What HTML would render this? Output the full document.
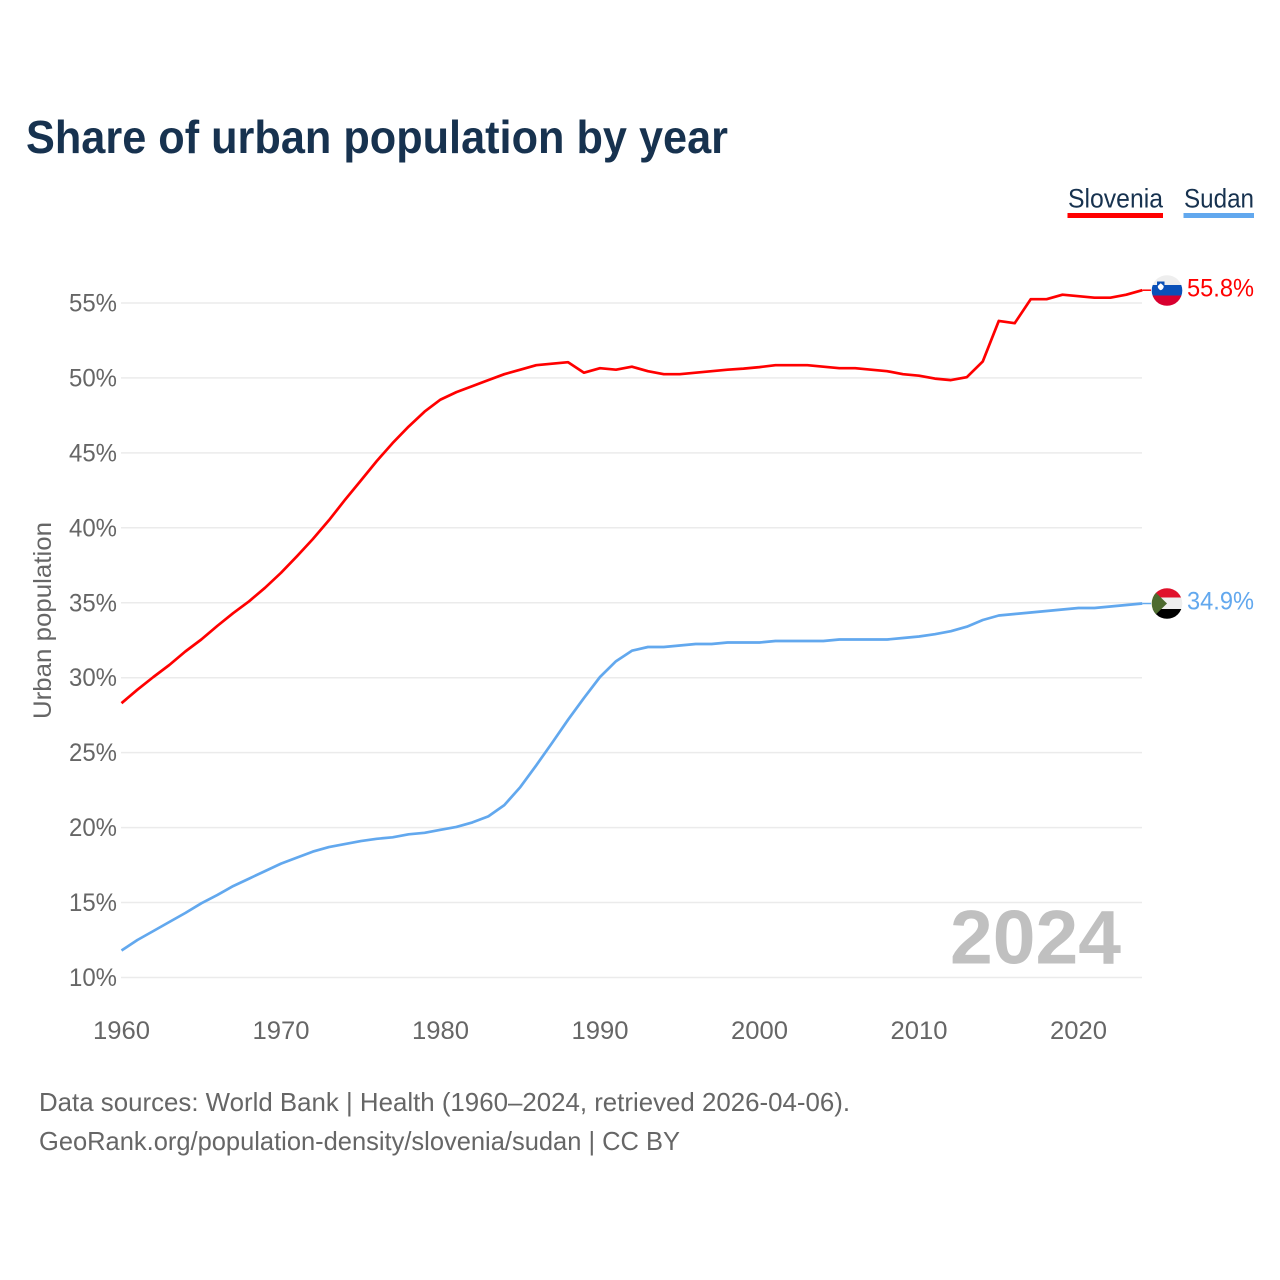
<!DOCTYPE html>
<html lang="en">
<head>
<meta charset="utf-8">
<title>Share of urban population by year</title>
<style>
html,body{margin:0;padding:0;background:#fff;width:1280px;height:1280px;overflow:hidden}
svg{display:block}
text{font-family:"Liberation Sans",sans-serif}
</style>
</head>
<body>
<svg id="chart" xmlns="http://www.w3.org/2000/svg" width="1280" height="1280" viewBox="0 0 1280 1280">
  <rect width="1280" height="1280" fill="#fff"/>
  <text x="26" y="153" font-size="46" font-weight="700" fill="#17324f" textLength="702" lengthAdjust="spacingAndGlyphs">Share of urban population by year</text>

  <g>
    <g>
      <text x="1068" y="207.500" font-size="27" fill="#17324f" textLength="95" lengthAdjust="spacingAndGlyphs">Slovenia</text>
      <rect x="1067.500" y="213" width="95.500" height="5" fill="#ff0000"/>
    </g>
    <g>
      <text x="1184" y="207.500" font-size="27" fill="#17324f" textLength="70" lengthAdjust="spacingAndGlyphs">Sudan</text>
      <rect x="1183.500" y="213" width="70.500" height="5" fill="#62a8ee"/>
    </g>
  </g>

  <g id="grid"></g>
  <g id="yticks"></g>
  <g id="xticks"></g>
  <text transform="translate(51,719) rotate(-90)" font-size="25" fill="#666" textLength="197" lengthAdjust="spacingAndGlyphs">Urban population</text>

  <text x="950" y="963.500" font-size="76" font-weight="700" fill="#c0c0c0" textLength="171" lengthAdjust="spacingAndGlyphs">2024</text>

  <g id="series"></g>

  <g>
    <clipPath id="clipSi"><circle cx="1167" cy="290.500" r="15.300"/></clipPath>
    <g clip-path="url(#clipSi)">
      <rect x="1150" y="274" width="34" height="11" fill="#eeeeee"/>
      <rect x="1150" y="285" width="34" height="10.500" fill="#0a50b8"/>
      <rect x="1150" y="295.500" width="34" height="12" fill="#d8002f"/>
      <path d="M1157 281.500 h7.500 v5 q0 3 -3.750 4.500 q-3.750 -1.500 -3.750 -4.500z" fill="#0a50b8"/>
      <path d="M1157.800 286 l1.500 -1.500 l1.450 -1.200 l1.450 1.200 l1.500 1.500 v0.500 q0 2.500 -2.950 3.800 q-2.950 -1.300 -2.950 -3.800z" fill="#fff"/>
    </g>
  </g>
  <g>
    <clipPath id="clipSd"><circle cx="1167" cy="603.500" r="15.300"/></clipPath>
    <g clip-path="url(#clipSd)">
      <rect x="1150" y="587" width="34" height="10.500" fill="#e0112b"/>
      <rect x="1150" y="597.500" width="34" height="11.500" fill="#eeeeee"/>
      <rect x="1150" y="609" width="34" height="11" fill="#000"/>
      <path d="M1149 586 L1167 603.500 L1149 621z" fill="#4d6b2f"/>
    </g>
  </g>

  <text x="1187" y="296.500" font-size="25" fill="#ff0000" textLength="67" lengthAdjust="spacingAndGlyphs">55.8%</text>
  <text x="1187" y="609.500" font-size="25" fill="#62a8ee" textLength="67" lengthAdjust="spacingAndGlyphs">34.9%</text>

  <g>
    <text x="39" y="1111" font-size="26" fill="#666" textLength="811" lengthAdjust="spacingAndGlyphs">Data sources: World Bank | Health (1960–2024, retrieved 2026-04-06).</text>
    <text x="39" y="1150" font-size="26" fill="#666" textLength="641" lengthAdjust="spacingAndGlyphs">GeoRank.org/population-density/slovenia/sudan | CC BY</text>
  </g>
</svg>
<script>
var startYear = 1960;
var sloveniaValues = [28.3,29.2,30.05,30.85,31.75,32.55,33.45,34.3,35.1,36.0,37.0,38.1,39.25,40.5,41.85,43.15,44.45,45.65,46.75,47.75,48.55,49.05,49.45,49.85,50.25,50.55,50.85,50.95,51.05,50.35,50.65,50.55,50.75,50.45,50.25,50.25,50.35,50.45,50.55,50.62,50.72,50.85,50.85,50.85,50.75,50.65,50.65,50.55,50.45,50.25,50.15,49.95,49.85,50.05,51.1,53.8,53.65,55.25,55.25,55.55,55.45,55.35,55.35,55.55,55.85];
var sudanValues = [11.8,12.5,13.1,13.7,14.3,14.95,15.5,16.1,16.6,17.1,17.6,18.0,18.4,18.7,18.9,19.1,19.25,19.35,19.55,19.65,19.85,20.05,20.35,20.75,21.5,22.7,24.15,25.65,27.2,28.65,30.05,31.1,31.8,32.05,32.05,32.15,32.25,32.25,32.35,32.35,32.35,32.45,32.45,32.45,32.45,32.55,32.55,32.55,32.55,32.65,32.75,32.9,33.1,33.4,33.85,34.15,34.25,34.35,34.45,34.55,34.65,34.65,34.75,34.85,34.95];
var yTickValues = [10,15,20,25,30,35,40,45,50,55];
var xTickYears = [1960,1970,1980,1990,2000,2010,2020];

var NS = 'http://www.w3.org/2000/svg';
function xScale(year){ return 121.5 + (year - 1960) * 15.95; }
function yScale(v){ return 977.5 - (v - 10) * 14.99; }

var gridGroup = document.getElementById('grid');
var yGroup = document.getElementById('yticks');
var xGroup = document.getElementById('xticks');
var seriesGroup = document.getElementById('series');

yTickValues.forEach(function(v){
  var line = document.createElementNS(NS, 'line');
  
  
  line.setAttribute('x1', 121);
  line.setAttribute('x2', 1142);
  line.setAttribute('y1', yScale(v));
  line.setAttribute('y2', yScale(v));
  line.setAttribute('stroke', '#ebebeb');
  line.setAttribute('stroke-width', '1.5');
  gridGroup.appendChild(line);

  var t = document.createElementNS(NS, 'text');
  
  
  t.setAttribute('x', 69);
  t.setAttribute('y', yScale(v) + 8.5);
  t.setAttribute('font-size', '25');
  t.setAttribute('fill', '#666');
  t.setAttribute('textLength', '48');
  t.setAttribute('lengthAdjust', 'spacingAndGlyphs');
  t.textContent = v + '%';
  yGroup.appendChild(t);
});

xTickYears.forEach(function(y){
  var t = document.createElementNS(NS, 'text');
  
  
  t.setAttribute('x', xScale(y) - 28.5);
  t.setAttribute('y', 1039);
  t.setAttribute('font-size', '25');
  t.setAttribute('fill', '#666');
  t.setAttribute('textLength', '57');
  t.setAttribute('lengthAdjust', 'spacingAndGlyphs');
  t.textContent = y;
  xGroup.appendChild(t);
});

function linePoints(values){
  return values.map(function(v, i){
    return xScale(startYear + i).toFixed(1) + ',' + yScale(v).toFixed(1);
  }).join(' ');
}
function connectorEndY(values){
  return yScale(values[values.length - 1]).toFixed(1);
}
function connectorStartX(values){
  return xScale(startYear + values.length - 1).toFixed(1);
}

var sudanLine = document.createElementNS(NS, 'polyline');


sudanLine.setAttribute('points', linePoints(sudanValues));
sudanLine.setAttribute('fill', 'none');
sudanLine.setAttribute('stroke', '#62a8ee');
sudanLine.setAttribute('stroke-width', '2.7');
sudanLine.setAttribute('stroke-linejoin', 'round');
seriesGroup.appendChild(sudanLine);

var sudanConnector = document.createElementNS(NS, 'line');


sudanConnector.setAttribute('x1', connectorStartX(sudanValues));
sudanConnector.setAttribute('x2', 1151);
sudanConnector.setAttribute('y1', connectorEndY(sudanValues));
sudanConnector.setAttribute('y2', connectorEndY(sudanValues));
sudanConnector.setAttribute('stroke', '#62a8ee');
sudanConnector.setAttribute('stroke-width', '1.5');
seriesGroup.appendChild(sudanConnector);

var sloveniaLine = document.createElementNS(NS, 'polyline');


sloveniaLine.setAttribute('points', linePoints(sloveniaValues));
sloveniaLine.setAttribute('fill', 'none');
sloveniaLine.setAttribute('stroke', '#ff0000');
sloveniaLine.setAttribute('stroke-width', '2.7');
sloveniaLine.setAttribute('stroke-linejoin', 'round');
seriesGroup.appendChild(sloveniaLine);

var sloveniaConnector = document.createElementNS(NS, 'line');


sloveniaConnector.setAttribute('x1', connectorStartX(sloveniaValues));
sloveniaConnector.setAttribute('x2', 1151);
sloveniaConnector.setAttribute('y1', connectorEndY(sloveniaValues));
sloveniaConnector.setAttribute('y2', connectorEndY(sloveniaValues));
sloveniaConnector.setAttribute('stroke', '#ff0000');
sloveniaConnector.setAttribute('stroke-width', '1.5');
seriesGroup.appendChild(sloveniaConnector);
</script>
</body>
</html>
